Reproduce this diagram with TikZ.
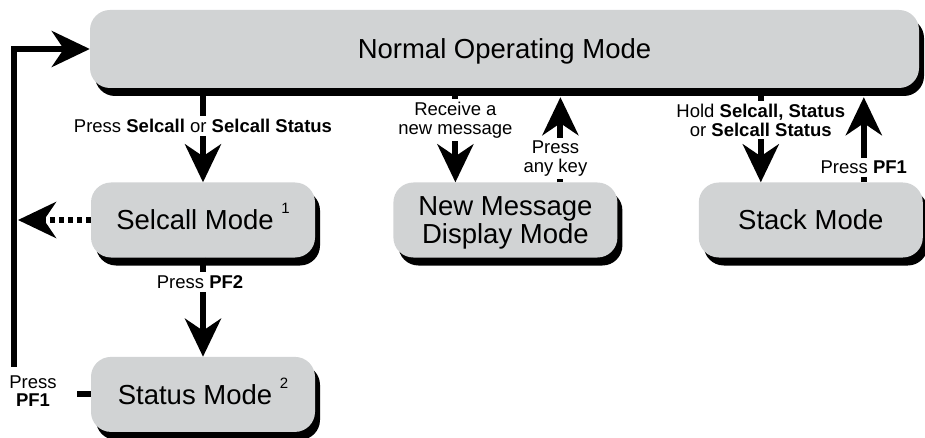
\documentclass[tikz,border=0pt]{standalone}
\usepackage{fontspec}
\setmainfont{Liberation Sans}
\usetikzlibrary{arrows.meta, positioning, shadows}
\definecolor{boxgray}{HTML}{D1D3D4}
\newcommand{\fnmark}[1]{\raisebox{16pt}[0pt][0pt]{\fontsize{15}{15}\selectfont #1}}

\begin{document}
\begin{tikzpicture}[
    x=1pt, y=-1pt,
    mode/.style={fill=boxgray, rounded corners=20pt, minimum width=224pt, minimum height=75pt, inner sep=0pt, text depth=0pt, align=center, font=\fontsize{27.5}{27.5}\selectfont, drop shadow={shadow xshift=5pt, shadow yshift=-8pt, fill=black, opacity=1}},
    lbl/.style={fill=white, inner sep=3pt, align=center, font=\fontsize{18.5}{18.5}\selectfont},
    flow/.style={line width=6pt},
    >={Stealth[width=36pt, length=38pt, inset=12pt]},
]
\useasboundingbox (0,0) rectangle (925,438);
\node[mode, minimum width=829pt, minimum height=78pt] (normal) at (504.5,49) {Normal Operating Mode};
\node[mode] (selcall) at (203,220) {Selcall Mode \fnmark{1}};
\node[mode, below=99pt of selcall] (status) {Status Mode \fnmark{2}};
\node[mode, right=78pt of selcall] (newmsg) {New Message\\Display Mode};
\node[mode, right=81pt of newmsg] (stack) {Stack Mode};
\coordinate (loop) at (14,49);
\coordinate (rcv) at ([xshift=-50pt]newmsg.north);
\coordinate (anykey) at ([xshift=55pt]newmsg.north);
\coordinate (hold) at ([xshift=-50pt]stack.north);
\coordinate (back) at ([xshift=53pt]stack.north);
\draw[flow, ->] (normal.south -| selcall.north) -- node[lbl, pos=0.40] (selkey) {Press \textbf{Selcall} or \textbf{Selcall Status}} (selcall.north);
\draw[flow, ->] (selcall.south) -- node[lbl, pos=0.245, xshift=-3pt] (pf2lbl) {Press \textbf{PF2}} (status.north);
\draw[flow, ->] (status.west) -| (loop) |- (normal.west);
\node[lbl, inner xsep=20pt, inner ysep=8pt] (pf1lbl) at (33,391) {Press\\\textbf{PF1}};
\draw[flow, ->, dash pattern=on 5pt off 4pt] (selcall.west) -- ([xshift=4pt]loop |- selcall.west);
\draw[flow, ->] (normal.south -| rcv) -- node[lbl, pos=0.34] (rcvlbl) {Receive a\\new message} (rcv);
\draw[flow, ->, shorten >=9pt] (anykey) -- node[lbl, pos=0.25, xshift=-5pt] (keylbl) {Press\\any key} (normal.south -| anykey);
\draw[flow, ->] (normal.south -| hold) -- node[lbl, pos=0.34] (holdlbl) {Hold \textbf{Selcall, Status}\\or \textbf{Selcall Status}} (hold);
\draw[flow, ->, shorten >=9pt] (back) -- node[lbl, pos=0.16] (backlbl) {Press \textbf{PF1}} (normal.south -| back);
\end{tikzpicture}
\end{document}
